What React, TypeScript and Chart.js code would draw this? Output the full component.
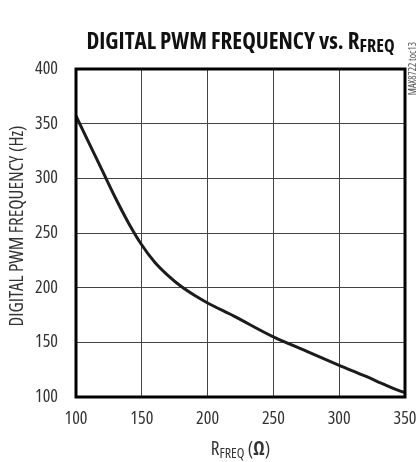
import React, { useEffect, useRef } from "react";
import { Chart, registerables } from "chart.js";

Chart.register(...registerables);

const rFreq = [100, 110, 120, 130, 140, 150, 160, 170, 180, 190, 200, 220, 250, 275, 300, 320, 335, 345, 350];
const pwmFreq = [357, 332, 307, 282, 259, 239, 223, 211, 201, 193, 186, 174, 155, 142, 129, 119, 111, 106, 104];
const xTicks = [100, 150, 200, 250, 300, 350];
const yTicks = [100, 150, 200, 250, 300, 350, 400];

const titleMain = "DIGITAL PWM FREQUENCY vs. R";
const titleSub = "FREQ";
const yTitle = "DIGITAL PWM FREQUENCY (Hz)";
const xTitleMain = "R";
const xTitleSub = "FREQ";
const xTitleUnit = "Ω";
const watermark = "MAX8722 toc13";

const FAM = "'Open Sans', 'DejaVu Sans Condensed', sans-serif";
const F = (size: number, bold = false) => `condensed ${bold ? "bold " : ""}${size}px ${FAM}`;

const textPlugin = {
  id: "customText",
  afterDraw(chart: any) {
    const ctx = chart.ctx as CanvasRenderingContext2D;
    const area = chart.chartArea;
    const cx = (area.left + area.right) / 2;
    // plot border
    ctx.save();
    ctx.strokeStyle = "#000";
    ctx.lineWidth = 3;
    ctx.strokeRect(area.left, area.top, area.right - area.left, area.bottom - area.top);
    ctx.restore();

    // title
    ctx.save();
    ctx.fillStyle = "#111";
    ctx.textBaseline = "alphabetic";
    ctx.textAlign = "left";
    const f1 = F(23, true);
    const f2 = F(18, true);
    ctx.font = f1;
    const w1 = ctx.measureText(titleMain).width;
    ctx.font = f2;
    const w2 = ctx.measureText(titleSub).width;
    const x0 = cx - (w1 + w2) / 2;
    ctx.font = f1;
    ctx.fillText(titleMain, x0, 49);
    ctx.font = f2;
    ctx.fillText(titleSub, x0 + w1, 52);
    ctx.restore();

    // x title
    ctx.save();
    ctx.fillStyle = "#333";
    const a = F(19);
    const b = F(14);
    const c = F(19, true);
    const parts: [string, string, number][] = [
      [xTitleMain, a, 0],
      [xTitleSub, b, 3],
      [" (", a, 0],
      [xTitleUnit, c, 0],
      [")", a, 0],
    ];
    let total = 0;
    for (const p of parts) {
      ctx.font = p[1];
      total += ctx.measureText(p[0]).width;
    }
    let xx = cx - total / 2;
    for (const p of parts) {
      ctx.font = p[1];
      ctx.fillText(p[0], xx, 455 + p[2]);
      xx += ctx.measureText(p[0]).width;
    }
    ctx.restore();

    // y title
    ctx.save();
    ctx.fillStyle = "#333";
    ctx.font = F(19);
    ctx.translate(23, 226);
    ctx.rotate(-Math.PI / 2);
    ctx.textAlign = "center";
    ctx.textBaseline = "alphabetic";
    ctx.fillText(yTitle, 0, 0);
    ctx.restore();

    // watermark
    ctx.save();
    ctx.fillStyle = "#555";
    ctx.font = F(10);
    ctx.translate(413, 42);
    ctx.rotate(-Math.PI / 2);
    ctx.textAlign = "right";
    ctx.textBaseline = "middle";
    ctx.fillText(watermark, 0, 0);
    ctx.restore();
  },
};

export default function App() {
  const ref = useRef<HTMLCanvasElement | null>(null);
  useEffect(() => {
    document.body.style.margin = "0";
    const canvas = ref.current!;
    const tickFont = { family: FAM, size: 18, weight: "condensed" as any };
    const chart = new Chart(canvas, {
      type: "line",
      data: {
        datasets: [
          {
            data: rFreq.map((x, i) => ({ x, y: pwmFreq[i] })),
            borderColor: "#1c1c1c",
            borderWidth: 3,
            pointRadius: 0,
            cubicInterpolationMode: "monotone",
            fill: false,
          },
        ],
      },
      options: {
        animation: false,
        responsive: false,
        maintainAspectRatio: false,
        layout: { padding: { left: 0, right: 12, top: 69, bottom: 0 } },
        plugins: { legend: { display: false }, tooltip: { enabled: false }, title: { display: false } },
        scales: {
          x: {
            type: "linear",
            min: 100,
            max: 350,
            afterBuildTicks: (s: any) => {
              s.ticks = xTicks.map((v) => ({ value: v }));
            },
            afterFit: (s: any) => {
              s.height = 65;
              s.paddingLeft = 0;
              s.paddingRight = 0;
            },
            grid: { color: "#444", lineWidth: 1, drawTicks: false },
            border: { display: false },
            ticks: { color: "#333", font: tickFont, padding: 11, maxRotation: 0 },
          },
          y: {
            type: "linear",
            min: 100,
            max: 400,
            afterBuildTicks: (s: any) => {
              s.ticks = yTicks.map((v) => ({ value: v }));
            },
            afterFit: (s: any) => {
              s.width = 76;
              s.paddingTop = 0;
              s.paddingBottom = 0;
            },
            grid: { color: "#444", lineWidth: 1, drawTicks: false },
            border: { display: false },
            ticks: { color: "#333", font: tickFont, padding: 18 },
          },
        },
      },
      plugins: [textPlugin],
    } as any);
    return () => chart.destroy();
  }, []);
  return <canvas ref={ref} width={417} height={462} style={{ display: "block" }} />;
}
